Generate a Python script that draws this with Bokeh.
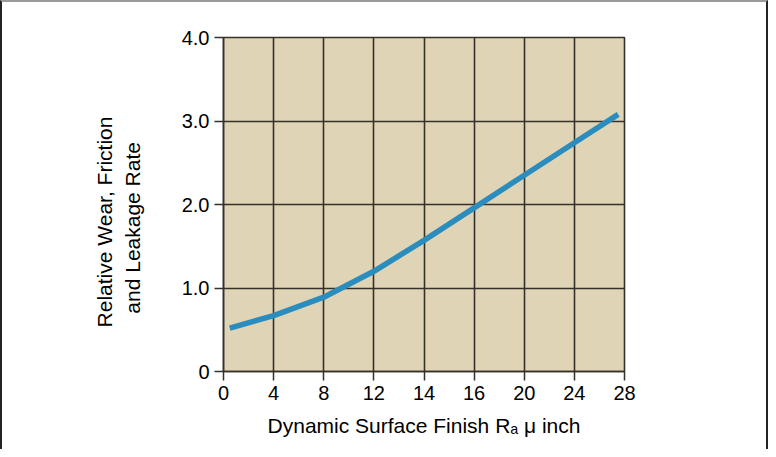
import numpy as np
from bokeh.plotting import figure
from bokeh.models import FixedTicker, Range1d
from bokeh.embed import file_html
from bokeh.resources import INLINE

# Tick values (x axis is drawn with equally spaced, non-uniform labels)
x_tick_values = [0, 4, 8, 12, 14, 16, 20, 24, 28]
x_tick_labels = ["0", "4", "8", "12", "14", "16", "20", "24", "28"]
y_tick_values = [0, 1, 2, 3, 4]
y_tick_labels = ["0", "1.0", "2.0", "3.0", "4.0"]

# Curve: surface finish (micro-inch) vs relative wear/friction/leakage
finish_ra = [0.5, 4, 8, 12, 14, 16, 20, 24, 27.5]
relative_rate = [0.52, 0.67, 0.89, 1.20, 1.57, 1.96, 2.35, 2.74, 3.08]

x_title = "Dynamic Surface Finish R\u2090 \u03bc inch"
y_title_lines = ["Relative Wear, Friction", "and Leakage Rate"]

FONT = "Liberation Sans"
positions = list(range(len(x_tick_values)))

p = figure(frame_width=401, frame_height=334,
           min_border_left=221, min_border_right=142,
           min_border_top=35, min_border_bottom=78,
           x_range=Range1d(0, 8), y_range=Range1d(0, 4),
           output_backend="svg", toolbar_location=None,
           background_fill_color="#DFD4B5", border_fill_color="white")
p.styles = {"border-left": "2px solid #222222", "border-top": "2px solid #9a9a9a",
            "border-right": "2px solid #222222"}

grid_col = "#35302a"
p.outline_line_color = grid_col
p.outline_line_width = 1.6

xa = p.xaxis[0]
ya = p.yaxis[0]
xa.ticker = FixedTicker(ticks=positions)
xa.major_label_overrides = {i: lab for i, lab in zip(positions, x_tick_labels)}
ya.ticker = FixedTicker(ticks=y_tick_values)
ya.major_label_overrides = {v: lab for v, lab in zip(y_tick_values, y_tick_labels)}
for ax in (xa, ya):
    ax.major_label_text_font = FONT
    ax.major_label_text_font_size = "20px"
    ax.major_label_text_color = "black"
    ax.axis_line_color = grid_col
    ax.axis_line_width = 1.5
    ax.major_tick_line_color = grid_col
    ax.major_tick_line_width = 1.5
    ax.major_tick_in = 0
    ax.minor_tick_line_color = None
    ax.axis_label_text_font = FONT
    ax.axis_label_text_font_size = "21px"
    ax.axis_label_text_font_style = "normal"
    ax.axis_label_text_color = "black"
xa.major_tick_out = 9
xa.major_label_standoff = 5
ya.major_tick_out = 9
ya.major_label_standoff = 5

xa.axis_label = x_title
xa.axis_label_standoff = 11
nb = "\u00a0"
ya.axis_label = y_title_lines[0] + nb * 6 + "\n" + y_title_lines[1] + nb * 8
ya.axis_label_standoff = 35

p.xgrid.ticker = FixedTicker(ticks=positions)
p.ygrid.ticker = FixedTicker(ticks=y_tick_values)
for g in (p.xgrid[0], p.ygrid[0]):
    g.grid_line_color = grid_col
    g.grid_line_width = 1.6
    g.grid_line_alpha = 1.0

# curve, mapped onto the equally spaced label positions
cx = np.interp(finish_ra, x_tick_values, positions)
p.line(cx, relative_rate, line_color="#2B8CBE", line_width=5.5,
       line_join="round", line_cap="butt")

open("out.html", "w").write(file_html(p, INLINE))
